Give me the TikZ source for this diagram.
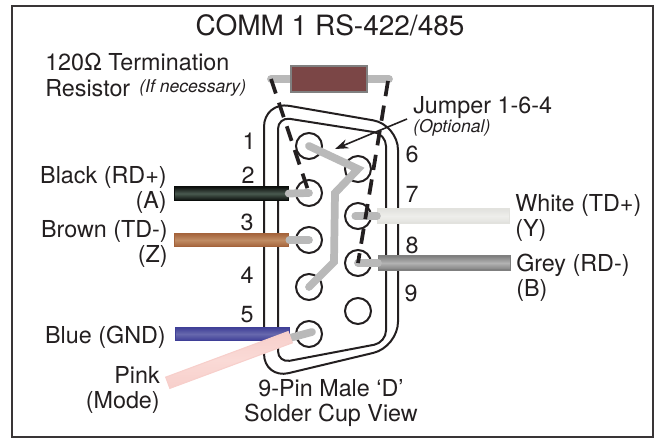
\documentclass[tikz,border=0pt]{standalone}
\usepackage{fontspec}
\setmainfont{TeX Gyre Heros}
\usetikzlibrary{arrows.meta}
\definecolor{inkc}{HTML}{231F20}
\definecolor{leadc}{HTML}{B9B9B9}
\definecolor{resc}{HTML}{7B4646}
\definecolor{blacka}{HTML}{0A0D0B}
\definecolor{blackb}{HTML}{4A5A50}
\definecolor{browna}{HTML}{A4633B}
\definecolor{brownb}{HTML}{C08C64}
\definecolor{bluea}{HTML}{3F3F97}
\definecolor{blueb}{HTML}{6768AD}
\definecolor{whitea}{HTML}{E2E2DE}
\definecolor{whiteb}{HTML}{EEEEEB}
\definecolor{greya}{HTML}{7F7F7F}
\definecolor{greyb}{HTML}{B2B2B2}
\definecolor{pinka}{HTML}{F7CFCB}
\definecolor{pinkb}{HTML}{FADAD6}
\tikzset{
    lab/.style={inner sep=0pt, text=inkc, font=\fontsize{17.5}{18.8}\selectfont},
    small/.style={inner sep=0pt, text=inkc, font=\fontsize{13.2}{15}\selectfont\itshape},
    pin/.style={circle, draw=inkc, line width=1.5pt, minimum size=19.5pt, inner sep=0pt},
    shell/.style={draw=inkc, line width=1.5pt},
    lead/.style={draw=leadc, line width=5.8pt, line cap=round},
    wire/.style 2 args={inner sep=0pt, draw=#1, line width=0.8pt, top color=#1, bottom color=#1, middle color=#2},
    jump/.style={draw=inkc, line width=2.8pt, dash pattern=on 11.5pt off 7.2pt}
}
\begin{document}
\begin{tikzpicture}[x=0.75pt, y=-0.75pt]
    \useasboundingbox (0,0) rectangle (657,439);
    \draw[draw=inkc!90, line width=1.6pt] (12,6) rectangle (653,437);

    \node[lab, font=\fontsize{21}{23}\selectfont] (title) at (330,25) {COMM 1 RS-422/485};
    \node[lab, anchor=west, align=left] (termlab) at (45,75) {120Ω Termination\\Resistor};
    \node[small, anchor=west] (ifnec) at (139,88) {(If necessary)};
    \node[lab, anchor=west] (jumplab) at (413,108) {Jumper 1-6-4};
    \node[small, anchor=west] (optlab) at (413,128) {(Optional)};
    \node[lab, anchor=east, align=right] (blacklab) at (167,190) {Black (RD+)\\(A)};
    \node[lab, anchor=east, align=right] (brownlab) at (168,244) {Brown (TD-)\\(Z)};
    \node[lab, anchor=east] (bluelab) at (166,337) {Blue (GND)};
    \node[lab, anchor=east, align=right] (pinklab) at (160,390) {Pink\\(Mode)};
    \node[lab, anchor=west, align=left] (whitelab) at (515,218) {White (TD+)\\(Y)};
    \node[lab, anchor=west, align=left] (greylab) at (516,278) {Grey (RD-)\\(B)};
    \node[lab, align=center] (viewlab) at (331,403) {9-Pin Male ‘D’\\Solder Cup View};

    \foreach \n/\x/\y in {1/249/141,2/248/175,3/247/222,4/247/275,5/247/315,6/412/154,7/412/194,8/412/245,9/411/293}
    {
      \node[lab] (num\n) at (\x,\y) {\n};
    };

    \draw[shell, rounded corners=19pt] (264,200) -- (264,101.5) -- (398,124.6) -- (398,347) -- (264,379) -- cycle;
    \draw[shell, rounded corners=9pt] (278,200) -- (278,117) -- (386,134) -- (386,342.5) -- (278,363) -- cycle;

    \foreach \n/\x/\y in {1/309/146,2/309/193,3/309/240,4/309/287,5/309/334,6/358/169,7/358/216,8/358/263,9/358/311}
    {
      \node[pin] (pin\n) at (\x,\y) {};
    };

    \coordinate (resl) at (271,79);
    \coordinate (resr) at (389,79);
    \coordinate (dashl) at (271,79);
    \coordinate (dashr) at (388,81);
    \coordinate (tip5) at (312,332);
    \coordinate (bend1) at (335,193);
    \coordinate (bend2) at (334,262);
    \coordinate (arrowtail) at (407,119);
    \coordinate (arrowhead) at (335,149);

    \draw[lead] (resl) -- (resr);
    \node[inner sep=0pt, minimum width=57pt, minimum height=19.5pt, fill=resc, draw=gray, line width=0.8pt] (res) at (329,79) {};
    \draw[lead, line join=miter] (pin1.center) -- (pin6.center) -- (bend1) -- (bend2) -- (pin4.center);

    \node[wire={blacka}{blackb}, minimum width=85pt, minimum height=10.5pt] (blackw) at (231.5,193.5) {};
    \node[wire={browna}{brownb}, minimum width=86pt, minimum height=10pt] (brownw) at (231.5,240) {};
    \node[wire={bluea}{blueb}, minimum width=85pt, minimum height=10pt] (bluew) at (232.5,334) {};
    \node[wire={whitea}{whiteb}, minimum width=99pt, minimum height=10.5pt] (whitew) at (443.5,216) {};
    \node[wire={greya}{greyb}, minimum width=99pt, minimum height=10.5pt] (greyw) at (444.5,263) {};

    \draw[lead] (blackw.east) -- (pin2.center);
    \draw[lead] (brownw.east) -- (pin3.center);
    \draw[lead] (whitew.west) -- ([xshift=-2pt]pin7.center);
    \draw[lead] (greyw.west) -- (pin8.center);
    \draw[lead] (bluew.east) ++(0,4) -- (tip5);

    \node[wire={pinka}{pinkb}, rotate=20.4, minimum width=98pt, minimum height=9pt] (pinkw) at (229,360) {};

    \draw[jump] (dashl) -- (pin2.center);
    \draw[jump] (dashr) -- (pin8.center);
    \draw[-{Stealth[length=10pt,width=7pt]}, draw=inkc, fill=inkc, line width=1.2pt] (arrowtail) -- (arrowhead);
\end{tikzpicture}
\end{document}
